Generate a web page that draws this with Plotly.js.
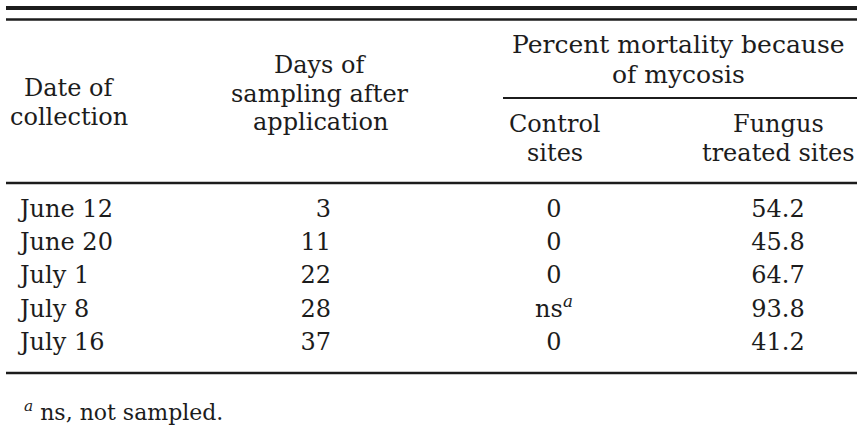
<!DOCTYPE html>
<html>
<head>
<meta charset="utf-8">
<script src="https://cdn.plot.ly/plotly-3.0.1.min.js"></script>
<style>html,body{margin:0;padding:0;background:#fff;}#chart{width:863px;height:439px;}</style>
</head>
<body>
<div id="chart"></div>
<script>
// ---- data ----
const dates = ['June 12', 'June 20', 'July 1', 'July 8', 'July 16'];
const daysAfter = [3, 11, 22, 28, 37];
const controlSites = ['0', '0', '0', 'ns<sup><i>a</i></sup>', '0'];
const fungusSites = [54.2, 45.8, 64.7, 93.8, 41.2];
const headerDate = ['Date of', 'collection'];
const headerDays = ['Days of', 'sampling after', 'application'];
const headerGroup = ['Percent mortality because', 'of mycosis'];
const headerControl = ['Control', 'sites'];
const headerFungus = ['Fungus', 'treated sites'];
const footnote = '<sup><i>a</i></sup> ns, not sampled.';

// ---- layout constants ----
const W = 863, H = 439;
const FONT = 'DejaVu Serif';
const INK = '#1c1c1c';
const rowTop = 211, rowStep = 33.2;
const rows = dates.map((_, i) => i);
const colX = {date: 20, days: 331, control: 554, fungus: 778};
const fs = 24;
const py = p => 1 - p / H;

const baseText = {type: 'scatter', mode: 'text', y: rows, hoverinfo: 'skip', showlegend: false,
  textfont: {family: FONT, size: fs, color: INK}};
const traces = [
  Object.assign({}, baseText, {x: rows.map(() => colX.date), text: dates, textposition: 'middle right'}),
  Object.assign({}, baseText, {x: rows.map(() => colX.days), text: daysAfter.map(String), textposition: 'middle left'}),
  Object.assign({}, baseText, {x: rows.map(() => colX.control), text: controlSites, textposition: 'middle center'}),
  Object.assign({}, baseText, {x: rows.map(() => colX.fungus), text: fungusSites.map(v => v.toFixed(1)), textposition: 'middle center'})
];

const ann = [];
function addLines(lines, x, ys, size) {
  lines.forEach((t, i) => ann.push({text: t, xref: 'x', yref: 'paper', x: x, y: py(ys[i]),
    xanchor: 'center', yanchor: 'middle', showarrow: false,
    font: {family: FONT, size: size || fs, color: INK}}));
}
addLines(headerDate, 69, [88, 117]);
addLines(headerDays, 320, [65, 94, 122]);
addLines(headerGroup, 678, [44, 74], 25);
addLines(headerControl, 555, [124, 153]);
addLines(headerFungus, 778, [124, 153]);
ann.push({text: footnote, xref: 'x', yref: 'paper', x: 22, y: py(411), xanchor: 'left', yanchor: 'middle',
  showarrow: false, font: {family: FONT, size: 22, color: INK}});

function hline(x0, x1, p, w) {
  return {type: 'line', xref: 'x', yref: 'paper', x0: x0, x1: x1, y0: py(p), y1: py(p),
    line: {color: INK, width: w}};
}
const shapes = [
  hline(6, 857, 8, 4),
  hline(6, 857, 19.5, 2.5),
  hline(503, 857, 98, 2),
  hline(6, 857, 183, 2.5),
  hline(6, 857, 373, 2.5)
];

const layout = {
  width: W, height: H, margin: {l: 0, r: 0, t: 0, b: 0},
  paper_bgcolor: '#fff', plot_bgcolor: '#fff',
  xaxis: {range: [0, W], visible: false, fixedrange: true},
  yaxis: {range: [(H - rowTop) / rowStep, -rowTop / rowStep], visible: false, fixedrange: true},
  annotations: ann, shapes: shapes, showlegend: false
};
Plotly.newPlot('chart', traces, layout, {displayModeBar: false, staticPlot: true});
</script>
</body>
</html>
